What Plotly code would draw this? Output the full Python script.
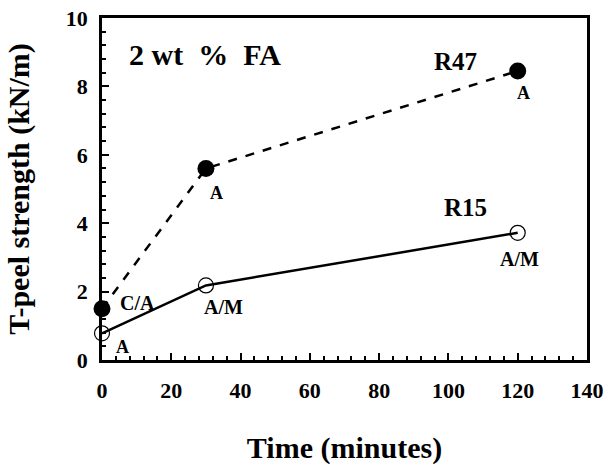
import plotly.graph_objects as go

# T-peel strength vs. cure time, 2 wt % FA
time_min = [0, 30, 120]
r47_strength = [1.5, 5.6, 8.45]
r15_strength = [0.78, 2.18, 3.72]

x_ticks = [0, 20, 40, 60, 80, 100, 120, 140]
y_ticks = [0, 2, 4, 6, 8, 10]

FONT = "Liberation Serif"

fig = go.Figure()

fig.add_trace(go.Scatter(
    x=time_min, y=r47_strength, mode="lines+markers", name="R47",
    line=dict(color="black", width=2.5, dash="dash"),
    marker=dict(symbol="circle", size=17, color="black"),
    cliponaxis=False,
))
fig.add_trace(go.Scatter(
    x=time_min, y=r15_strength, mode="lines+markers", name="R15",
    line=dict(color="black", width=2.5),
    marker=dict(symbol="circle-open", size=15, color="black", line=dict(width=1.2)),
    cliponaxis=False,
))

# Failure-mode labels and series names
labels = [
    (7.3, 8.92, "2 wt  %  FA", 30, "left"),
    (102, 8.72, "R47", 25, "center"),
    (105, 4.45, "R15", 25, "center"),
    (121.7, 7.8, "A", 18, "center"),
    (33, 4.88, "A", 18, "center"),
    (10.2, 1.67, "C/A", 20, "center"),
    (5.9, 0.38, "A", 18, "center"),
    (35, 1.55, "A/M", 20, "center"),
    (120.5, 2.95, "A/M", 20, "center"),
]
for x, y, t, s, anchor in labels:
    fig.add_annotation(
        x=x, y=y, text=t, showarrow=False, xanchor=anchor, yanchor="middle",
        font=dict(family=FONT, size=s, color="black", weight="bold"),
    )

axis_common = dict(
    showgrid=False, zeroline=False, showline=True, linecolor="black", linewidth=2.5,
    mirror=True, ticks="inside", ticklen=7, tickwidth=2, tickcolor="black",
    automargin=False,
    tickfont=dict(family=FONT, size=22, color="black", weight="bold"),
)

fig.update_xaxes(
    range=[0, 140], tickvals=x_ticks, ticklabelstandoff=9,
    minor=dict(dtick=4, ticks="inside", ticklen=4, tickwidth=1.5, tickcolor="black"),
    title=dict(text="Time (minutes)", standoff=36,
               font=dict(family=FONT, size=30, color="black", weight="bold")),
    **axis_common,
)
fig.update_yaxes(
    range=[0, 10], tickvals=y_ticks, ticklabelstandoff=7,
    minor=dict(dtick=0.4, ticks="inside", ticklen=4, tickwidth=1.5, tickcolor="black"),
    title=dict(text="T-peel strength (kN/m)", standoff=28,
               font=dict(family=FONT, size=30, color="black", weight="bold")),
    **axis_common,
)

fig.update_layout(
    width=607, height=465,
    margin=dict(l=102, r=20, t=18, b=105),
    paper_bgcolor="white", plot_bgcolor="white",
    showlegend=False,
)

fig.write_html("out.html")
